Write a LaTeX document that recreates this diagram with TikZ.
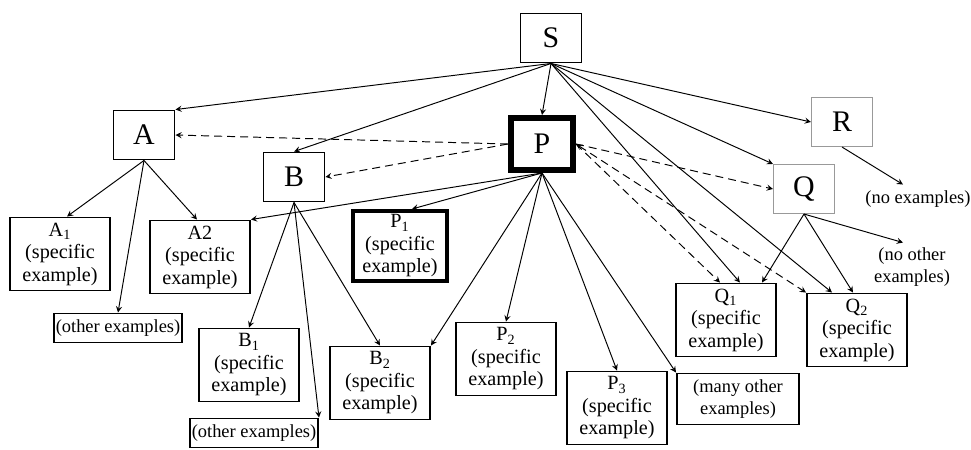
\documentclass[tikz,border=0pt]{standalone}
\usepackage{fontspec}
\setmainfont{Liberation Serif}
\usetikzlibrary{arrows, positioning, calc}
\tikzstyle{topic} = [rectangle, minimum width=1.22cm, minimum height=0.98cm, draw=black, line width=1.1pt, font=\fontsize{17}{20}\selectfont]
\tikzstyle{maintopic} = [topic, minimum width=1.24cm, minimum height=1.04cm, line width=3.4pt]
\tikzstyle{greytopic} = [topic, draw=black!40, line width=0.6pt]
\tikzstyle{example} = [rectangle, minimum width=2cm, minimum height=1.46cm, align=center, inner sep=1pt, draw=black, line width=1.1pt, font=\fontsize{11.5}{12.8}\selectfont]
\tikzstyle{thickexample} = [example, minimum width=1.88cm, minimum height=1.40cm, line width=2.3pt]
\tikzstyle{others} = [rectangle, minimum width=2.56cm, minimum height=0.58cm, align=center, inner sep=1pt, draw=black, line width=1.1pt, font=\fontsize{10.5}{12.5}\selectfont]
\tikzstyle{remark} = [align=center, inner sep=1pt, font=\fontsize{10.5}{12.5}\selectfont]
\tikzstyle{arrow} = [line width=0.55pt, ->, >=stealth]
\tikzstyle{hint} = [arrow, dash pattern=on 1.6mm off 1mm]

\begin{document}
\begin{tikzpicture}[x=0.2mm, y=-0.2mm]
\useasboundingbox (0,0) rectangle (971,449);

\node (S) [topic] at (551,38) {S};
\node (A) [topic] at (144,135) {A};
\node (B) [topic] at (294,177) {B};
\node (P) [maintopic] at (542,144) {P};
\node (R) [greytopic] at (842,122) {R};
\node (Q) [greytopic] at (804,189) {Q};

\node (a1) [example] at (60,254) {A\textsubscript{1}\\(specific\\example)};
\node (a2) [example] at (200,257) {A2\\(specific\\example)};
\node (aother) [others] at (118,328) {(other examples)};

\node (b1) [example] at (249,365) {B\textsubscript{1}\\(specific\\example)};
\node (bother) [others] at (254,433) {(other examples)};
\node (b2) [example] at (380,383) {B\textsubscript{2}\\(specific\\example)};

\node (p1) [thickexample] at (400,246) {P\textsubscript{1}\\(specific\\example)};
\node (p2) [example] at (506,359) {P\textsubscript{2}\\(specific\\example)};
\node (p3) [example] at (617,408) {P\textsubscript{3}\\(specific\\example)};
\node (pmany) [others, minimum width=2.44cm, minimum height=1.02cm] at (738,399) {(many other\\examples)};

\node (q1) [example] at (726,320) {Q\textsubscript{1}\\(specific\\example)};
\node (q2) [example] at (857,330) {Q\textsubscript{2}\\(specific\\example)};
\node (qnone) [remark] at (912,267) {(no other\\examples)};
\node (rnone) [remark] at (918,199) {(no examples)};

% from S
\draw [arrow] (S.south) -- (A.north east);
\draw [arrow] (S.south) -- (B.north);
\draw [arrow] (S.south) -- (P.north);
\draw [arrow] (S.south) -- (R.west);
\draw [arrow] (S.south) -- (Q.north west);
\draw [arrow] (S.south) -- ($(q1.north)+(14,0)$);
\draw [arrow] (S.south) -- ($(q2.north)+(-25,0)$);

% P related to the other topics
\draw [hint] (P.west) -- (A.east);
\draw [hint] (P.west) -- (B.east);
\draw [hint] (P.east) -- (Q.west);
\draw [hint] (P.east) -- ($(q1.north)+(-6,0)$);
\draw [hint, <->] (P.east) -- (q2.north west);

% examples of P
\draw [arrow] (P.south) -- (a2.north east);
\draw [arrow] (P.south) -- ($(p1.north)+(12,0)$);
\draw [arrow] (P.south) -- (b2.north east);
\draw [arrow] (P.south) -- (p2.north);
\draw [arrow] (P.south) -- (p3.north);
\draw [arrow] (P.south) -- (pmany.north west);

% examples of A, B, Q, R
\draw [arrow] (A.south) -- ($(a1.north)+(7,0)$);
\draw [arrow] (A.south) -- ($(a2.north)+(-3,0)$);
\draw [arrow] (A.south) -- (aother.north);
\draw [arrow] (B.south) -- (b1.north);
\draw [arrow] (B.south) -- (b2.north);
\draw [arrow] (B.south) -- (bother.north east);
\draw [arrow] (Q.south) -- ($(q1.north)+(36,0)$);
\draw [arrow] (Q.south) -- ($(q2.north)+(-4,0)$);
\draw [arrow] (Q.south) -- ($(qnone.north)+(-9,-3)$);
\draw [arrow] (R.south) -- ($(rnone.north)+(-15,-4)$);
\end{tikzpicture}
\end{document}
